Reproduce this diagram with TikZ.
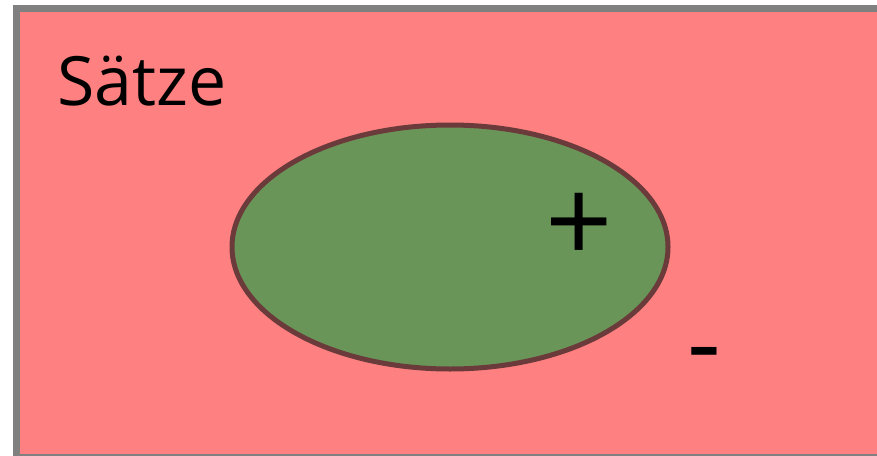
\documentclass[tikz,border=0pt]{standalone}
\usepackage{fontspec}
\setmainfont{Open Sans}
\usetikzlibrary{shapes.geometric}
\definecolor{bgpink}{HTML}{FF8080}
\definecolor{frame}{HTML}{808080}
\definecolor{setgreen}{HTML}{6A9558}
\definecolor{setedge}{HTML}{6B3A3A}
\tikzset{lbl/.style={inner sep=0pt, text=black}}
\begin{document}
\begin{tikzpicture}[x=1pt,y=-1pt]
\useasboundingbox (0,0) rectangle (877,455);
\fill[white] (0,0) rectangle (877,455);
\draw[frame, fill=bgpink, line width=7pt] (16.5,8.5) rectangle (890,457);
\node[ellipse, draw=setedge, fill=setgreen, line width=5pt, minimum width=436pt, minimum height=244pt, inner sep=0pt] (pos) at (450,247) {};
\node[lbl, anchor=base west, font=\fontsize{68}{76}\selectfont] (title) at (57,105) {Sätze};
\node[lbl, font=\fontsize{118}{130}\selectfont] (plus) at (579,228) {+};
\node[lbl, font=\fontsize{105}{115}\selectfont] (minus) at (704,363) {-};
\end{tikzpicture}
\end{document}
